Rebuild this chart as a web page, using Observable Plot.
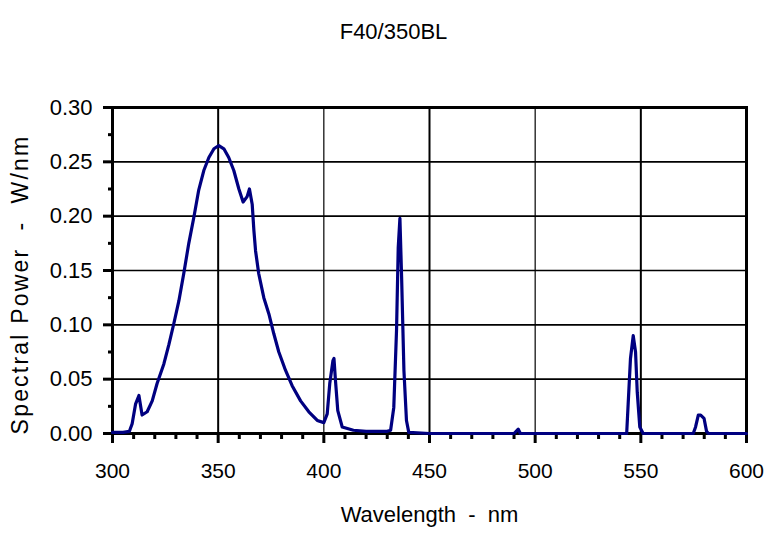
<!DOCTYPE html>
<html><head><meta charset="utf-8">
<script src="https://cdn.jsdelivr.net/npm/d3@7"></script>
<script src="https://cdn.jsdelivr.net/npm/@observablehq/plot@0.6"></script>
<style>
body{margin:0;background:#fff;}
</style></head><body><div id="chart"></div>
<script>
const title = "F40/350BL";
const xLabel = "Wavelength  -  nm";
const yLabel = "Spectral Power  -  W/nm";

const wavelength = [300,305,308,309.3,310.9,312.5,314,316.4,318.8,321.1,324.3,326.7,329,331.4,333.7,336.1,338.5,340.8,343.2,345.6,348,350.3,352.7,355,357.4,359.8,361.8,363.7,364.8,366.1,366.9,367.7,369.2,371.6,374,376.3,378.7,381.9,385,389,392.9,396.9,400,401.6,402.8,404.3,404.8,405.5,406.6,408.7,414,420,430,431.6,433.1,434.4,435.2,436,436.8,437.9,439.1,440.2,450,490,492,493,543.3,544,545.1,546.4,547.5,548.3,549.5,551.1,574.8,575.9,577.2,578.3,579.9,581.1,582,600];
const power = [0.001,0.001,0.002,0.009,0.027,0.035,0.017,0.020,0.030,0.046,0.064,0.082,0.101,0.122,0.147,0.175,0.199,0.224,0.242,0.254,0.262,0.265,0.262,0.254,0.242,0.225,0.213,0.218,0.225,0.211,0.187,0.168,0.147,0.125,0.110,0.092,0.075,0.058,0.044,0.030,0.020,0.012,0.010,0.018,0.046,0.067,0.069,0.049,0.021,0.006,0.003,0.002,0.002,0.003,0.024,0.095,0.171,0.198,0.144,0.058,0.012,0.001,0,0,0.004,0,0,0.027,0.069,0.090,0.075,0.038,0.006,0,0,0.006,0.017,0.017,0.014,0.002,0,0];

const xTicks = [300,350,400,450,500,550,600];
const xMinorTicks = [310,320,330,340,360,370,380,390,410,420,430,440,460,470,480,490,510,520,530,540,560,570,580,590];
const yTicks = [0,0.05,0.10,0.15,0.20,0.25,0.30];
const yMinorTicks = [0.025,0.075,0.125,0.175,0.225,0.275];

const data = wavelength.map((w, i) => ({w, p: power[i]}));

const chart = Plot.plot({
  width: 766, height: 533,
  marginTop: 107, marginLeft: 112, marginRight: 20, marginBottom: 100,
  style: {fontFamily: "'Liberation Sans', Arial, sans-serif", background: "#fff", color: "#000"},
  x: {domain: [300, 600], label: null},
  y: {domain: [0, 0.3], label: null},
  marks: [
    Plot.ruleY(yTicks, {stroke: "#000", strokeWidth: 1.6}),
    Plot.ruleX(xTicks, {stroke: "#000", strokeWidth: d => (d % 100 === 50 ? 2 : 1.2)}),
    Plot.frame({stroke: "#000", strokeWidth: 3}),
    Plot.axisY(yTicks, {tickSize: 9, tickPadding: 11, strokeWidth: 3, tickFormat: d3.format(".2f"), fontSize: 22, fill: "#000"}),
    Plot.axisY(yMinorTicks, {tickSize: 4, strokeWidth: 3, tickFormat: () => ""}),
    Plot.axisX(xTicks, {tickSize: 10, tickPadding: 20, strokeWidth: 3, fontSize: 21, fill: "#000"}),
    Plot.axisX(xMinorTicks, {tickSize: 6, strokeWidth: 3, tickFormat: () => ""}),
    Plot.line(data, {x: "w", y: "p", stroke: "#000080", strokeWidth: 3.2}),
    Plot.text([title], {text: d => d, frameAnchor: "top", dx: -36, dy: -84, fontSize: 22, fill: "#000"}),
    Plot.text([xLabel], {text: d => d, frameAnchor: "bottom", dy: 88, fontSize: 22, fill: "#000"}),
    Plot.text([yLabel], {text: d => d, frameAnchor: "left", textAnchor: "middle", dx: -92, dy: 14, rotate: -90, fontSize: 23, fill: "#000"})
  ]
});
d3.select(chart).selectAll("text").filter(function() { return this.textContent === yLabel; }).style("letter-spacing", "2.2px");
document.getElementById("chart").appendChild(chart);
</script></body></html>
